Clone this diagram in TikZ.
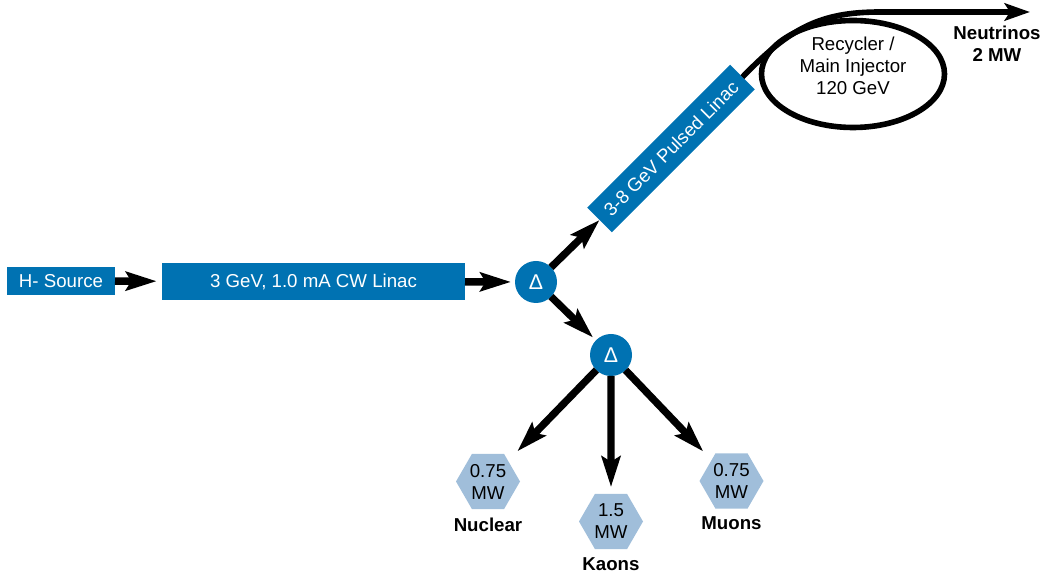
\documentclass[tikz,border=0pt]{standalone}
\usepackage{fontspec}
\setmainfont{Liberation Sans}
\usetikzlibrary{arrows.meta,positioning,shapes.geometric}
\definecolor{linacblue}{RGB}{0,114,178}
\definecolor{hexblue}{RGB}{160,190,218}

\begin{document}
\begin{tikzpicture}[x=0.75pt,y=-0.75pt,
    font=\fontsize{14}{16.5}\selectfont,
    blkbox/.style={fill=linacblue,text=white,inner sep=0pt,outer sep=0pt},
    delta/.style={circle,fill=linacblue,text=white,minimum size=31.5pt,inner sep=0pt,outer sep=0pt,font=\fontsize{16}{16}\selectfont},
    hexa/.style={regular polygon,regular polygon sides=6,minimum size=48pt,fill=hexblue,inner sep=0pt,outer sep=0pt,align=center},
    lbl/.style={font=\fontsize{14}{16.5}\selectfont\bfseries,inner sep=0pt},
    beam/.style={line width=5.5pt,-{Stealth[length=23pt,width=14pt,inset=4pt]}},
    ringline/.style={line width=4.2pt}]
  \useasboundingbox (0,0) rectangle (1040,573);
  %sorgente e linac
  \node[blkbox,minimum width=81pt,minimum height=21pt] (src) at (61,281) {H- Source};
  \node[blkbox,minimum width=227.25pt,minimum height=27.75pt] (cw) at (313.5,281.5) {3 GeV, 1.0 mA CW Linac};
  \node[delta] (d1) at (536,282) {Δ};
  \node[delta] (d2) at (611,355) {Δ};
  \node[blkbox,rotate=45,minimum width=151.5pt,minimum height=26.25pt] (pulsed) at (671,148.5) {3-8 GeV Pulsed Linac};
  %anello
  \node[ellipse,draw,ringline,minimum width=137.25pt,minimum height=80.25pt,inner sep=0pt,align=center] (ring) at (853,74) {Recycler /\\Main Injector\\120 GeV\\[-4pt]};
  \coordinate (nuend) at (1030,12);
  \draw[ringline,-{Stealth[length=19pt,width=13pt,inset=4pt]}] (pulsed.east) .. controls (790,28) and (820,12) .. (880,12) -- (nuend);
  \node[lbl,align=center] (nu) at (997,44) {Neutrinos\\2 MW};
  %bersagli
  \node[hexa] (nuc) at (488,481.5) {0.75\\MW};
  \node[hexa] (kao) at (611,521.5) {1.5\\MW};
  \node[hexa] (muo) at (731.5,481) {0.75\\MW};
  \node[lbl,below=6pt of nuc] (nuclbl) {Nuclear};
  \node[lbl,below=6pt of kao] (kaolbl) {Kaons};
  \node[lbl,below=6pt of muo] (muolbl) {Muons};
  %frecce
  \draw[beam,shorten >=4pt] (src) -- (cw);
  \draw[beam,shorten >=3pt] (cw) -- (d1);
  \draw[beam] (d1) -- (pulsed.west);
  \draw[beam,shorten >=3pt] (d1) -- (d2);
  \draw[beam,shorten >=10pt] (d2) -- (nuc);
  \draw[beam,shorten >=5pt] (d2) -- (kao);
  \draw[beam,shorten >=9pt] (d2) -- (muo);
\end{tikzpicture}
\end{document}
